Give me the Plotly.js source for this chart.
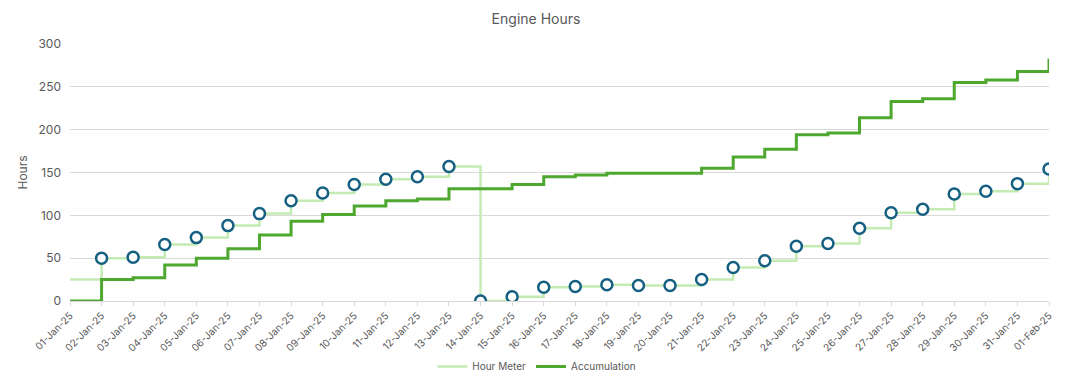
<!DOCTYPE html>
<html>
<head>
<meta charset="utf-8">
<script src="https://cdn.plot.ly/plotly-3.0.1.min.js"></script>
<style>html,body{margin:0;padding:0;background:#fff;}#chart{width:1072px;height:383px;}</style>
</head>
<body>
<div id="chart"></div>
<script>
const dates = ["2025-01-01","2025-01-02","2025-01-03","2025-01-04","2025-01-05","2025-01-06","2025-01-07","2025-01-08",
  "2025-01-09","2025-01-10","2025-01-11","2025-01-12","2025-01-13","2025-01-14","2025-01-15","2025-01-16",
  "2025-01-17","2025-01-18","2025-01-19","2025-01-20","2025-01-21","2025-01-22","2025-01-23","2025-01-24",
  "2025-01-25","2025-01-26","2025-01-27","2025-01-28","2025-01-29","2025-01-30","2025-01-31","2025-02-01"];
const hourMeter = [25,50,51,66,74,88,102,117,126,136,142,145,157,0,5,16,17,19,18,18,25,39,47,64,67,85,103,107,125,128,137,154];
const accumulation = [0,25,27,42,50,61,77,93,101,111,117,119,131,131,136,145,147,149,149,149,155,168,177,194,196,214,233,236,255,258,268,283];
const markerDates = dates.slice(1);
const markerValues = hourMeter.slice(1);

const traces = [
  {x: dates, y: hourMeter, name: 'Hour Meter', type: 'scatter', mode: 'lines',
   line: {shape: 'hv', color: '#C4EBB4', width: 2.5}},
  {x: dates, y: accumulation, name: 'Accumulation', type: 'scatter', mode: 'lines',
   line: {shape: 'hv', color: '#4EA72E', width: 3}},
  {x: markerDates, y: markerValues, name: 'Hour Meter', type: 'scatter', mode: 'markers', showlegend: false,
   marker: {symbol: 'circle', size: 11, color: '#FFFFFF', line: {color: '#156082', width: 2.5}}}
];

const layout = {
  width: 1072, height: 383,
  margin: {l: 70, r: 23, t: 44, b: 82, pad: 0, autoexpand: false},
  paper_bgcolor: '#FFFFFF', plot_bgcolor: '#FFFFFF',
  font: {family: 'Inter, "Open Sans", sans-serif', color: '#595959', size: 12},
  title: {text: 'Engine Hours', x: 0.5, xanchor: 'center', y: 0.95, yanchor: 'middle',
          font: {size: 14, color: '#595959'}},
  xaxis: {
    type: 'date', range: ['2025-01-01', '2025-02-01'], automargin: false,
    tickformat: '%d-%b-%y', dtick: 86400000, tick0: '2025-01-01',
    tickangle: -45, tickfont: {size: 10, color: '#595959'},
    showgrid: false, showline: true, linecolor: '#D9D9D9', linewidth: 1,
    ticks: 'outside', ticklen: 4, tickcolor: '#D9D9D9', zeroline: false
  },
  yaxis: {
    range: [0, 300], dtick: 50, tick0: 0, automargin: false,
    tickfont: {size: 12, color: '#595959'},
    title: {text: 'Hours', font: {size: 12, color: '#595959'}, standoff: 8},
    showgrid: true, gridcolor: '#D9D9D9', gridwidth: 1,
    zeroline: false, showline: false, ticks: '', ticklabelstandoff: 8
  },
  legend: {orientation: 'h', x: 0.370, xanchor: 'left', y: -0.255, yanchor: 'middle',
           font: {size: 10, color: '#595959'}, itemwidth: 30, traceorder: 'normal'},
  showlegend: true
};

Plotly.newPlot('chart', traces, layout, {displayModeBar: false, staticPlot: true});
</script>
</body>
</html>
